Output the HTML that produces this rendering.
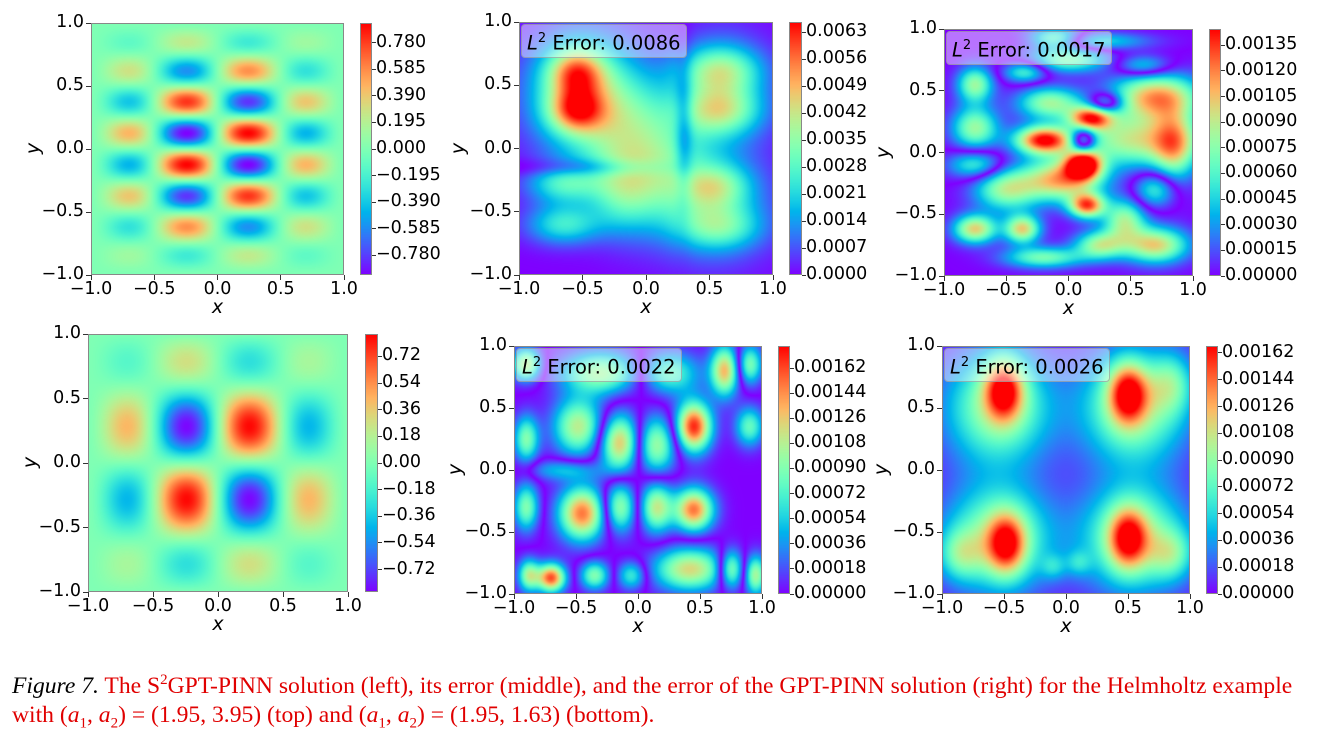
<!DOCTYPE html>
<html><head><meta charset="utf-8">
<style>
html,body{margin:0;padding:0;background:#fff;}
#fig{position:relative;width:1332px;height:746px;overflow:hidden;background:#fff;font-family:"DejaVu Sans","Liberation Sans",sans-serif;color:#000;}
.t{position:absolute;font-size:17.5px;line-height:17px;white-space:nowrap;}
canvas{position:absolute;}
.frame{position:absolute;border:1px solid #888;box-sizing:border-box;}
.tk{position:absolute;background:#333;}
.cap{position:absolute;left:12px;font-family:"Liberation Serif",serif;font-size:23.6px;white-space:nowrap;color:#e00000;}
.box{position:absolute;background:rgba(255,255,255,0.45);border:1px solid rgba(140,140,140,0.6);border-radius:4px;font-size:19.5px;line-height:27px;padding:0 5px;white-space:nowrap;}
</style></head><body>
<div id="fig">
<div class="cap" style="top:672px;"><i style="color:#000">Figure 7.</i> The S<sup style="font-size:15px">2</sup>GPT-PINN solution (left), its error (middle), and the error of the GPT-PINN solution (right) for the Helmholtz example</div>
<div class="cap" style="top:702px;">with (<i>a</i><sub style="font-size:15px">1</sub>, <i>a</i><sub style="font-size:15px">2</sub>) = (1.95, 3.95) (top) and (<i>a</i><sub style="font-size:15px">1</sub>, <i>a</i><sub style="font-size:15px">2</sub>) = (1.95, 1.63) (bottom).</div>
</div>
<script>
// ---- data ----
const axisTicks = [-1, -0.5, 0, 0.5, 1];
const axisTickLabels = ["\u22121.0", "\u22120.5", "0.0", "0.5", "1.0"];
const solTopParams = [1.95, 3.95];
const solBotParams = [1.95, 1.63];
const cbTicksTL = [-0.78, -0.585, -0.39, -0.195, 0, 0.195, 0.39, 0.585, 0.78];
const cbLabelsTL = ["\u22120.780","\u22120.585","\u22120.390","\u22120.195","0.000","0.195","0.390","0.585","0.780"];
const cbTicksBL = [-0.72, -0.54, -0.36, -0.18, 0, 0.18, 0.36, 0.54, 0.72];
const cbLabelsBL = ["\u22120.72","\u22120.54","\u22120.36","\u22120.18","0.00","0.18","0.36","0.54","0.72"];
const cbTicksTM = [0,0.0007,0.0014,0.0021,0.0028,0.0035,0.0042,0.0049,0.0056,0.0063];
const cbLabelsTM = ["0.0000","0.0007","0.0014","0.0021","0.0028","0.0035","0.0042","0.0049","0.0056","0.0063"];
const cbTicksTR = [0,0.00015,0.0003,0.00045,0.0006,0.00075,0.0009,0.00105,0.0012,0.00135];
const cbLabelsTR = ["0.00000","0.00015","0.00030","0.00045","0.00060","0.00075","0.00090","0.00105","0.00120","0.00135"];
const cbTicksB = [0,0.00018,0.00036,0.00054,0.00072,0.0009,0.00108,0.00126,0.00144,0.00162];
const cbLabelsB = ["0.00000","0.00018","0.00036","0.00054","0.00072","0.00090","0.00108","0.00126","0.00144","0.00162"];
const errLabels = ["0.0086", "0.0017", "0.0022", "0.0026"];
// blobs: [x, y, amplitude, sx, sy, sign]
const blobsTM = [
 [-0.55,0.6,0.0033,0.15,0.13,1],[-0.55,0.3,0.0033,0.15,0.12,1],[-0.5,0.45,0.0032,0.3,0.32,1],
 [-0.1,0.15,0.0024,0.32,0.3,1],[0.1,-0.25,0.0022,0.28,0.28,1],
 [0.58,0.62,0.0025,0.22,0.13,1],[0.58,0.3,0.0025,0.22,0.13,1],[0.6,0.45,0.0018,0.25,0.3,1],
 [0.55,-0.3,0.0021,0.18,0.12,1],[0.58,-0.62,0.002,0.22,0.12,1],[0.55,-0.45,0.0017,0.3,0.3,1],
 [-0.65,-0.28,0.0024,0.2,0.11,1],[-0.65,-0.6,0.0024,0.2,0.11,1],[-0.2,-0.35,0.0018,0.18,0.22,1],
 [0.3,0.15,-0.0014,0.05,0.4,1],[-0.45,-0.15,-0.0012,0.4,0.05,1]
];
const blobsTR = [
 [-0.2,0.1,0.0014,0.16,0.08,1],[0.12,-0.1,0.0014,0.1,0.08,1],[0.18,0.28,0.0012,0.12,0.07,1],
 [0.15,-0.43,0.0012,0.1,0.07,1],[-0.05,-0.22,0.0011,0.22,0.12,1],[0.12,0.1,-0.0009,0.07,0.07,1],
 [0.7,0.45,0.0011,0.25,0.13,1],[0.55,0.1,0.0009,0.35,0.15,1],[-0.15,0.4,0.0008,0.18,0.09,1],
 [0.3,0.4,-0.0007,0.1,0.06,1],[-0.75,0.55,0.0008,0.1,0.1,1],[-0.35,0.65,-0.0006,0.12,0.06,1],
 [0.0,0.75,0.0007,0.22,0.07,1],[0.6,0.7,-0.0005,0.15,0.06,1],[-0.75,0.2,0.0008,0.13,0.12,1],
 [-0.75,-0.1,-0.0006,0.15,0.08,1],[-0.5,-0.3,0.0008,0.18,0.12,1],[-0.75,-0.62,0.001,0.12,0.08,1],
 [-0.37,-0.62,0.001,0.1,0.08,1],[0.25,-0.75,0.0008,0.14,0.08,1],[0.7,-0.75,0.001,0.18,0.1,1],
 [0.7,-0.3,-0.0006,0.12,0.1,1],[0.45,-0.55,0.0008,0.12,0.12,1],[-0.2,-0.85,0.0007,0.22,0.06,1],
 [0.85,0.05,0.0007,0.12,0.22,1],[0.2,0.9,-0.0005,0.3,0.05,1],[-0.1,0.92,0.0008,0.15,0.06,1]
];
const blobsBM = [
 [0.45,0.35,0.0017,0.1,0.14,1],[-0.45,-0.35,0.0015,0.13,0.15,1],[0.45,-0.32,0.0015,0.11,0.12,1],
 [-0.7,-0.87,0.0016,0.08,0.08,1],[0.7,0.8,0.0013,0.08,0.14,1],[-0.15,0.22,0.0013,0.11,0.16,1],
 [-0.48,0.35,0.0011,0.14,0.16,-1],[0.15,0.2,0.001,0.11,0.16,-1],[-0.9,0.25,0.0009,0.07,0.13,-1],
 [-0.9,-0.3,0.0009,0.07,0.13,-1],[-0.15,-0.3,0.001,0.09,0.14,-1],[0.15,-0.3,0.0011,0.09,0.14,1],
 [0.42,-0.8,0.0012,0.2,0.12,-1],[0.95,-0.85,0.001,0.06,0.11,-1],[0.75,-0.8,0.0011,0.07,0.11,1],
 [-0.88,-0.85,0.001,0.06,0.09,1],[-0.35,-0.85,0.0009,0.08,0.08,-1],[-0.05,-0.85,0.0007,0.08,0.08,1],
 [-0.3,0.78,0.001,0.22,0.12,-1],[-0.9,0.85,0.0011,0.08,0.09,1],[0.9,0.85,0.0009,0.07,0.11,-1],
 [0.25,0.78,0.0008,0.17,0.12,1],[0.9,0.35,0.0008,0.08,0.11,1],[-0.6,0.0,0.0005,0.2,0.06,1]
];
const blobsBR = [
 [-0.5,0.65,0.0011,0.11,0.17,1],[0.5,0.62,0.0011,0.11,0.17,1],[-0.48,-0.6,0.001,0.11,0.17,1],
 [0.5,-0.55,0.001,0.11,0.17,1],[-0.55,0.5,0.00095,0.3,0.32,1],[0.55,0.5,0.00095,0.3,0.32,1],
 [-0.55,-0.55,0.00095,0.3,0.3,1],[0.55,-0.55,0.00095,0.3,0.3,1],
 [-0.85,-0.68,0.0005,0.12,0.14,1],[0.85,-0.68,0.0005,0.12,0.14,1],[0.85,0.7,0.0005,0.12,0.17,1],
 [-0.1,-0.78,0.0003,0.07,0.07,1],[0.1,-0.75,0.0003,0.07,0.07,1]
];
// ---- rendering ----
const fig = document.getElementById('fig');
function rainbow(t){t=Math.max(0,Math.min(1,t));
 return [Math.min(1,Math.abs(2*t-0.5))*255, Math.sin(Math.PI*t)*255, Math.cos(Math.PI*t/2)*255];}
function solFn(p){return (x,y)=>(1-x*x)*(1-y*y)*Math.sin(p[0]*Math.PI*x)*Math.sin(p[1]*Math.PI*y);}
function blobFn(bl){return (x,y)=>{let s=0;for(const b of bl){const dx=(x-b[0])/b[3],dy=(y-b[1])/b[4];s+=b[5]*b[2]*Math.exp(-0.5*(dx*dx+dy*dy));}return Math.abs(s);};}
const panels = [
 {n:'top-left',px:91,py:23,pw:253,ph:252,cx:360,cw:12,vmin:-0.926,vmax:0.926,f:solFn(solTopParams),ct:cbTicksTL,cl:cbLabelsTL,ylx:36},
 {n:'top-middle',px:519,py:22,pw:254,ph:253,cx:789,cw:13,vmin:0,vmax:0.00656,f:blobFn(blobsTM),ct:cbTicksTM,cl:cbLabelsTM,err:errLabels[0],ylx:461},
 {n:'top-right',px:944,py:29,pw:249,ph:247,cx:1209,cw:12,vmin:0,vmax:0.001445,f:blobFn(blobsTR),ct:cbTicksTR,cl:cbLabelsTR,err:errLabels[1],ylx:886},
 {n:'bottom-left',px:88,py:334,pw:260,ph:258,cx:365,cw:13,vmin:-0.872,vmax:0.872,f:solFn(solBotParams),ct:cbTicksBL,cl:cbLabelsBL,ylx:33},
 {n:'bottom-middle',px:514,py:346,pw:248,ph:248,cx:778,cw:12,vmin:0,vmax:0.001778,f:blobFn(blobsBM),ct:cbTicksB,cl:cbLabelsB,err:errLabels[2],ylx:458},
 {n:'bottom-right',px:942,py:346,pw:248,ph:248,cx:1206,cw:12,vmin:0,vmax:0.001667,f:blobFn(blobsBR),ct:cbTicksB,cl:cbLabelsB,err:errLabels[3],ylx:884}
];
function add(tag,cls,name,style,html){const el=document.createElement(tag);if(cls)el.className=cls;
 
 
 if(style)el.style.cssText=style;if(html!==undefined)el.innerHTML=html;fig.appendChild(el);return el;}
for(const P of panels){
 const c=add('canvas','',P.n+'-heatmap','left:'+P.px+'px;top:'+P.py+'px;');
 c.width=P.pw;c.height=P.ph;const ctx=c.getContext('2d');const im=ctx.createImageData(P.pw,P.ph);
 for(let j=0;j<P.ph;j++)for(let i=0;i<P.pw;i++){
  const x=-1+2*(i+0.5)/P.pw,y=1-2*(j+0.5)/P.ph;const v=P.f(x,y);
  const col=rainbow((v-P.vmin)/(P.vmax-P.vmin));const k=(j*P.pw+i)*4;
  im.data[k]=col[0];im.data[k+1]=col[1];im.data[k+2]=col[2];im.data[k+3]=255;}
 ctx.putImageData(im,0,0);
 add('div','frame',P.n+'-axes-frame','left:'+P.px+'px;top:'+P.py+'px;width:'+P.pw+'px;height:'+P.ph+'px;');
 const sx=v=>P.px+(v+1)/2*P.pw, sy=v=>P.py+(1-v)/2*P.ph;
 axisTicks.forEach((v,i)=>{
  add('div','tk',P.n+'-x-tick','left:'+(sx(v)-0.5)+'px;top:'+(P.py+P.ph)+'px;width:1px;height:5px;');
  add('div','t',P.n+'-x-tick-label','left:'+(sx(v)-40)+'px;width:80px;text-align:center;top:'+(P.py+P.ph+6)+'px;',axisTickLabels[i]);
  add('div','tk',P.n+'-y-tick','left:'+(P.px-5)+'px;top:'+(sy(v)-0.5)+'px;width:5px;height:1px;');
  add('div','t',P.n+'-y-tick-label','left:'+(P.px-88)+'px;width:81px;text-align:right;top:'+(sy(v)-9)+'px;',axisTickLabels[i]);
 });
 add('div','t',P.n+'-x-axis-title','left:'+(sx(0)-10)+'px;width:20px;text-align:center;top:'+(P.py+P.ph+24)+'px;font-style:italic;font-size:19px;','x');
 add('div','t',P.n+'-y-axis-title','left:'+(P.ylx-8)+'px;top:'+(sy(0)-9)+'px;font-style:italic;font-size:19px;transform:rotate(-90deg);','y');
 const cb=add('canvas','',P.n+'-colorbar','left:'+P.cx+'px;top:'+P.py+'px;');
 cb.width=P.cw;cb.height=P.ph;const cctx=cb.getContext('2d');
 for(let j=0;j<P.ph;j++){const col=rainbow(1-(j+0.5)/P.ph);cctx.fillStyle='rgb('+col.map(Math.round).join(',')+')';cctx.fillRect(0,j,P.cw,1);}
 add('div','frame',P.n+'-colorbar-frame','left:'+P.cx+'px;top:'+P.py+'px;width:'+P.cw+'px;height:'+P.ph+'px;');
 const cy=v=>P.py+(1-(v-P.vmin)/(P.vmax-P.vmin))*P.ph;
 P.ct.forEach((v,i)=>{
  add('div','tk',P.n+'-colorbar-tick','left:'+(P.cx+P.cw)+'px;top:'+(cy(v)-0.5)+'px;width:4px;height:1px;');
  add('div','t',P.n+'-colorbar-tick-label','left:'+(P.cx+P.cw+4)+'px;top:'+(cy(v)-9)+'px;',P.cl[i]);
 });
 if(P.err){add('div','box',P.n+'-error-label','left:'+(P.px+2)+'px;top:'+(P.py+2)+'px;','<i>L</i><sup style="font-size:13px">2</sup> Error: '+P.err);}
}
</script>
</body></html>
